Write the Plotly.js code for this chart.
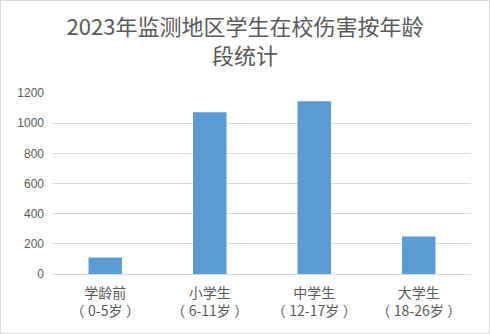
<!DOCTYPE html>
<html>
<head>
<meta charset="utf-8">
<script src="https://cdn.plot.ly/plotly-3.0.1.min.js"></script>
<style>
html,body{margin:0;padding:0;background:#fff;}
#chart{width:488px;height:332px;border:1px solid #d9d9d9;}
</style>
</head>
<body>
<div id="chart"></div>
<script>
const categories = ["学龄前<br>（\u20050-5岁\u2005）", "小学生<br>（\u20056-11岁\u2005）", "中学生<br>（\u200512-17岁\u2005）", "大学生<br>（\u200518-26岁\u2005）"];
const values = [110, 1073, 1146, 248];
const yTicks = [0, 200, 400, 600, 800, 1000, 1200];

Plotly.newPlot('chart', [{
  type: 'bar',
  x: categories,
  y: values,
  marker: {color: '#5B9BD5'},
  width: 0.32,
  hoverinfo: 'none'
}], {
  width: 488,
  height: 332,
  margin: {l: 52, r: 18, t: 92, b: 59},
  paper_bgcolor: '#fff',
  plot_bgcolor: '#fff',
  font: {family: '"Noto Sans CJK SC", "Noto Sans", sans-serif', color: '#595959'},
  title: {
    text: '2023年监测地区学生在校伤害按年龄<br>段统计',
    font: {size: 22, color: '#595959', family: '"Noto Sans CJK SC", sans-serif'},
    x: 0.5, xanchor: 'center', y: 0.897, yanchor: 'top', yref: 'container'
  },
  xaxis: {
    showgrid: false,
    showline: true,
    linecolor: '#d9d9d9',
    linewidth: 1,
    tickfont: {size: 14, color: '#595959'},
    ticks: '',
    ticklabelstandoff: 6
  },
  yaxis: {
    range: [0, 1200],
    tickvals: yTicks,
    ticktext: yTicks.map(String),
    showgrid: true,
    gridcolor: '#d9d9d9',
    zeroline: false,
    showline: false,
    ticks: '',
    ticklabelstandoff: 8,
    tickfont: {size: 12, color: '#595959', family: '"Liberation Sans", sans-serif'}
  },
  bargap: 0.68,
  showlegend: false
}, {staticPlot: true});
</script>
</body>
</html>
